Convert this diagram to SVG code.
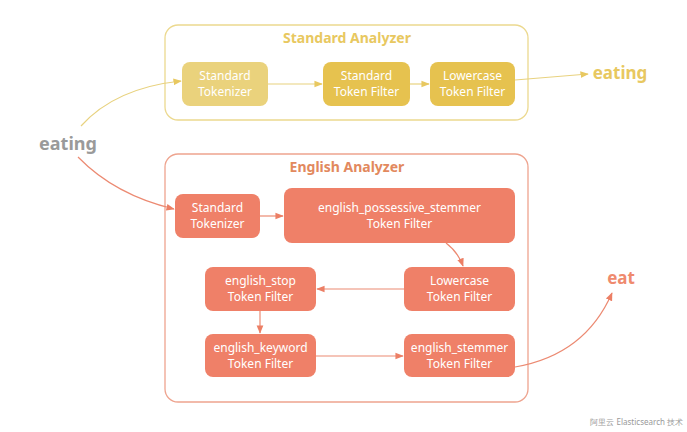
<svg xmlns="http://www.w3.org/2000/svg" width="687" height="432" viewBox="0 0 687 432">
<style>
text{font-family:"Noto Sans","Open Sans",sans-serif;}
.nt{fill:#fff;font-size:12px;text-anchor:middle;}
.ttl{font-size:14px;font-weight:bold;text-anchor:middle;}
.ye{fill:none;stroke:#e8d27f;stroke-width:1.2;}
.or{fill:none;stroke:#ec8a72;stroke-width:1.2;}
</style>
<defs>
<marker id="ay" viewBox="0 0 10 10" refX="9" refY="5" markerWidth="7" markerHeight="7" orient="auto"><path d="M0,1 L10,5 L0,9 z" fill="#e8c860"/></marker>
<marker id="ao" viewBox="0 0 10 10" refX="9" refY="5" markerWidth="7" markerHeight="7" orient="auto"><path d="M0,1 L10,5 L0,9 z" fill="#ec7f65"/></marker>
</defs>
<rect width="687" height="432" fill="#fff"/>
<g id="standard-analyzer">
<rect x="165" y="25" width="363" height="95" rx="13" fill="none" stroke="#ecd98f" stroke-width="1.3"/>
<text class="ttl" x="347" y="43" fill="#e8c860">Standard Analyzer</text>
</g>
<g id="std-tokenizer"><rect x="182" y="62" width="86" height="44" rx="8" fill="#ead27c"/><text class="nt" x="225" y="80">Standard</text><text class="nt" x="225" y="96">Tokenizer</text></g>
<g id="std-token-filter"><rect x="323" y="62" width="87" height="44" rx="8" fill="#e6c24f"/><text class="nt" x="366.5" y="80">Standard</text><text class="nt" x="366.5" y="96">Token Filter</text></g>
<g id="std-lowercase"><rect x="430" y="62" width="85" height="44" rx="8" fill="#e6c24f"/><text class="nt" x="472.5" y="80">Lowercase</text><text class="nt" x="472.5" y="96">Token Filter</text></g>
<g id="english-analyzer">
<rect x="165" y="154" width="363" height="248" rx="13" fill="none" stroke="#eea48f" stroke-width="1.3"/>
<text class="ttl" x="347" y="172" fill="#e2895e">English Analyzer</text>
</g>
<g id="en-tokenizer"><rect x="175" y="194" width="85" height="44" rx="8" fill="#ef8068"/><text class="nt" x="217.5" y="212">Standard</text><text class="nt" x="217.5" y="228">Tokenizer</text></g>
<g id="en-possessive"><rect x="284" y="188" width="231" height="55" rx="8" fill="#ef8068"/><text class="nt" x="399.5" y="212">english_possessive_stemmer</text><text class="nt" x="399.5" y="228">Token Filter</text></g>
<g id="en-lowercase"><rect x="404" y="267" width="111" height="44" rx="8" fill="#ef8068"/><text class="nt" x="459.5" y="285">Lowercase</text><text class="nt" x="459.5" y="301">Token Filter</text></g>
<g id="en-stop"><rect x="205" y="267" width="111" height="44" rx="8" fill="#ef8068"/><text class="nt" x="260.5" y="285">english_stop</text><text class="nt" x="260.5" y="301">Token Filter</text></g>
<g id="en-keyword"><rect x="205" y="334" width="111" height="43" rx="8" fill="#ef8068"/><text class="nt" x="260.5" y="352">english_keyword</text><text class="nt" x="260.5" y="368">Token Filter</text></g>
<g id="en-stemmer"><rect x="404" y="334" width="111" height="43" rx="8" fill="#ef8068"/><text class="nt" x="459.5" y="352">english_stemmer</text><text class="nt" x="459.5" y="368">Token Filter</text></g>
<g id="input"><text x="68" y="150" font-size="18" font-weight="bold" fill="#9a9a9a" text-anchor="middle">eating</text></g>
<g id="output-eating"><text x="620" y="79" font-size="17" font-weight="bold" fill="#e8c860" text-anchor="middle">eating</text></g>
<g id="output-eat"><text x="621" y="284" font-size="17" font-weight="bold" fill="#ef8a6e" text-anchor="middle">eat</text></g>
<g id="connectors">
<path class="ye" d="M81,126 Q115,88 181,81" marker-end="url(#ay)"/>
<path class="ye" d="M268,84 L322,84" marker-end="url(#ay)"/>
<path class="ye" d="M410,84 L429,84" marker-end="url(#ay)"/>
<path class="ye" d="M515,80 L588,74" marker-end="url(#ay)"/>
<path class="or" d="M78,157 Q115,195 174,209" marker-end="url(#ao)"/>
<path class="or" d="M260,216 L283,216" marker-end="url(#ao)"/>
<path class="or" d="M446,243 Q458,252 463,266" marker-end="url(#ao)"/>
<path class="or" d="M404,289 L317,289" marker-end="url(#ao)"/>
<path class="or" d="M260,311 L260,333" marker-end="url(#ao)"/>
<path class="or" d="M316,356 L403,356" marker-end="url(#ao)"/>
<path class="or" d="M515,367 Q585,355 612,293" marker-end="url(#ao)"/>
</g>
<text x="683" y="425" font-size="8" fill="#999" text-anchor="end" font-family="'Noto Sans CJK SC',sans-serif">阿里云 Elasticsearch 技术</text>
</svg>
